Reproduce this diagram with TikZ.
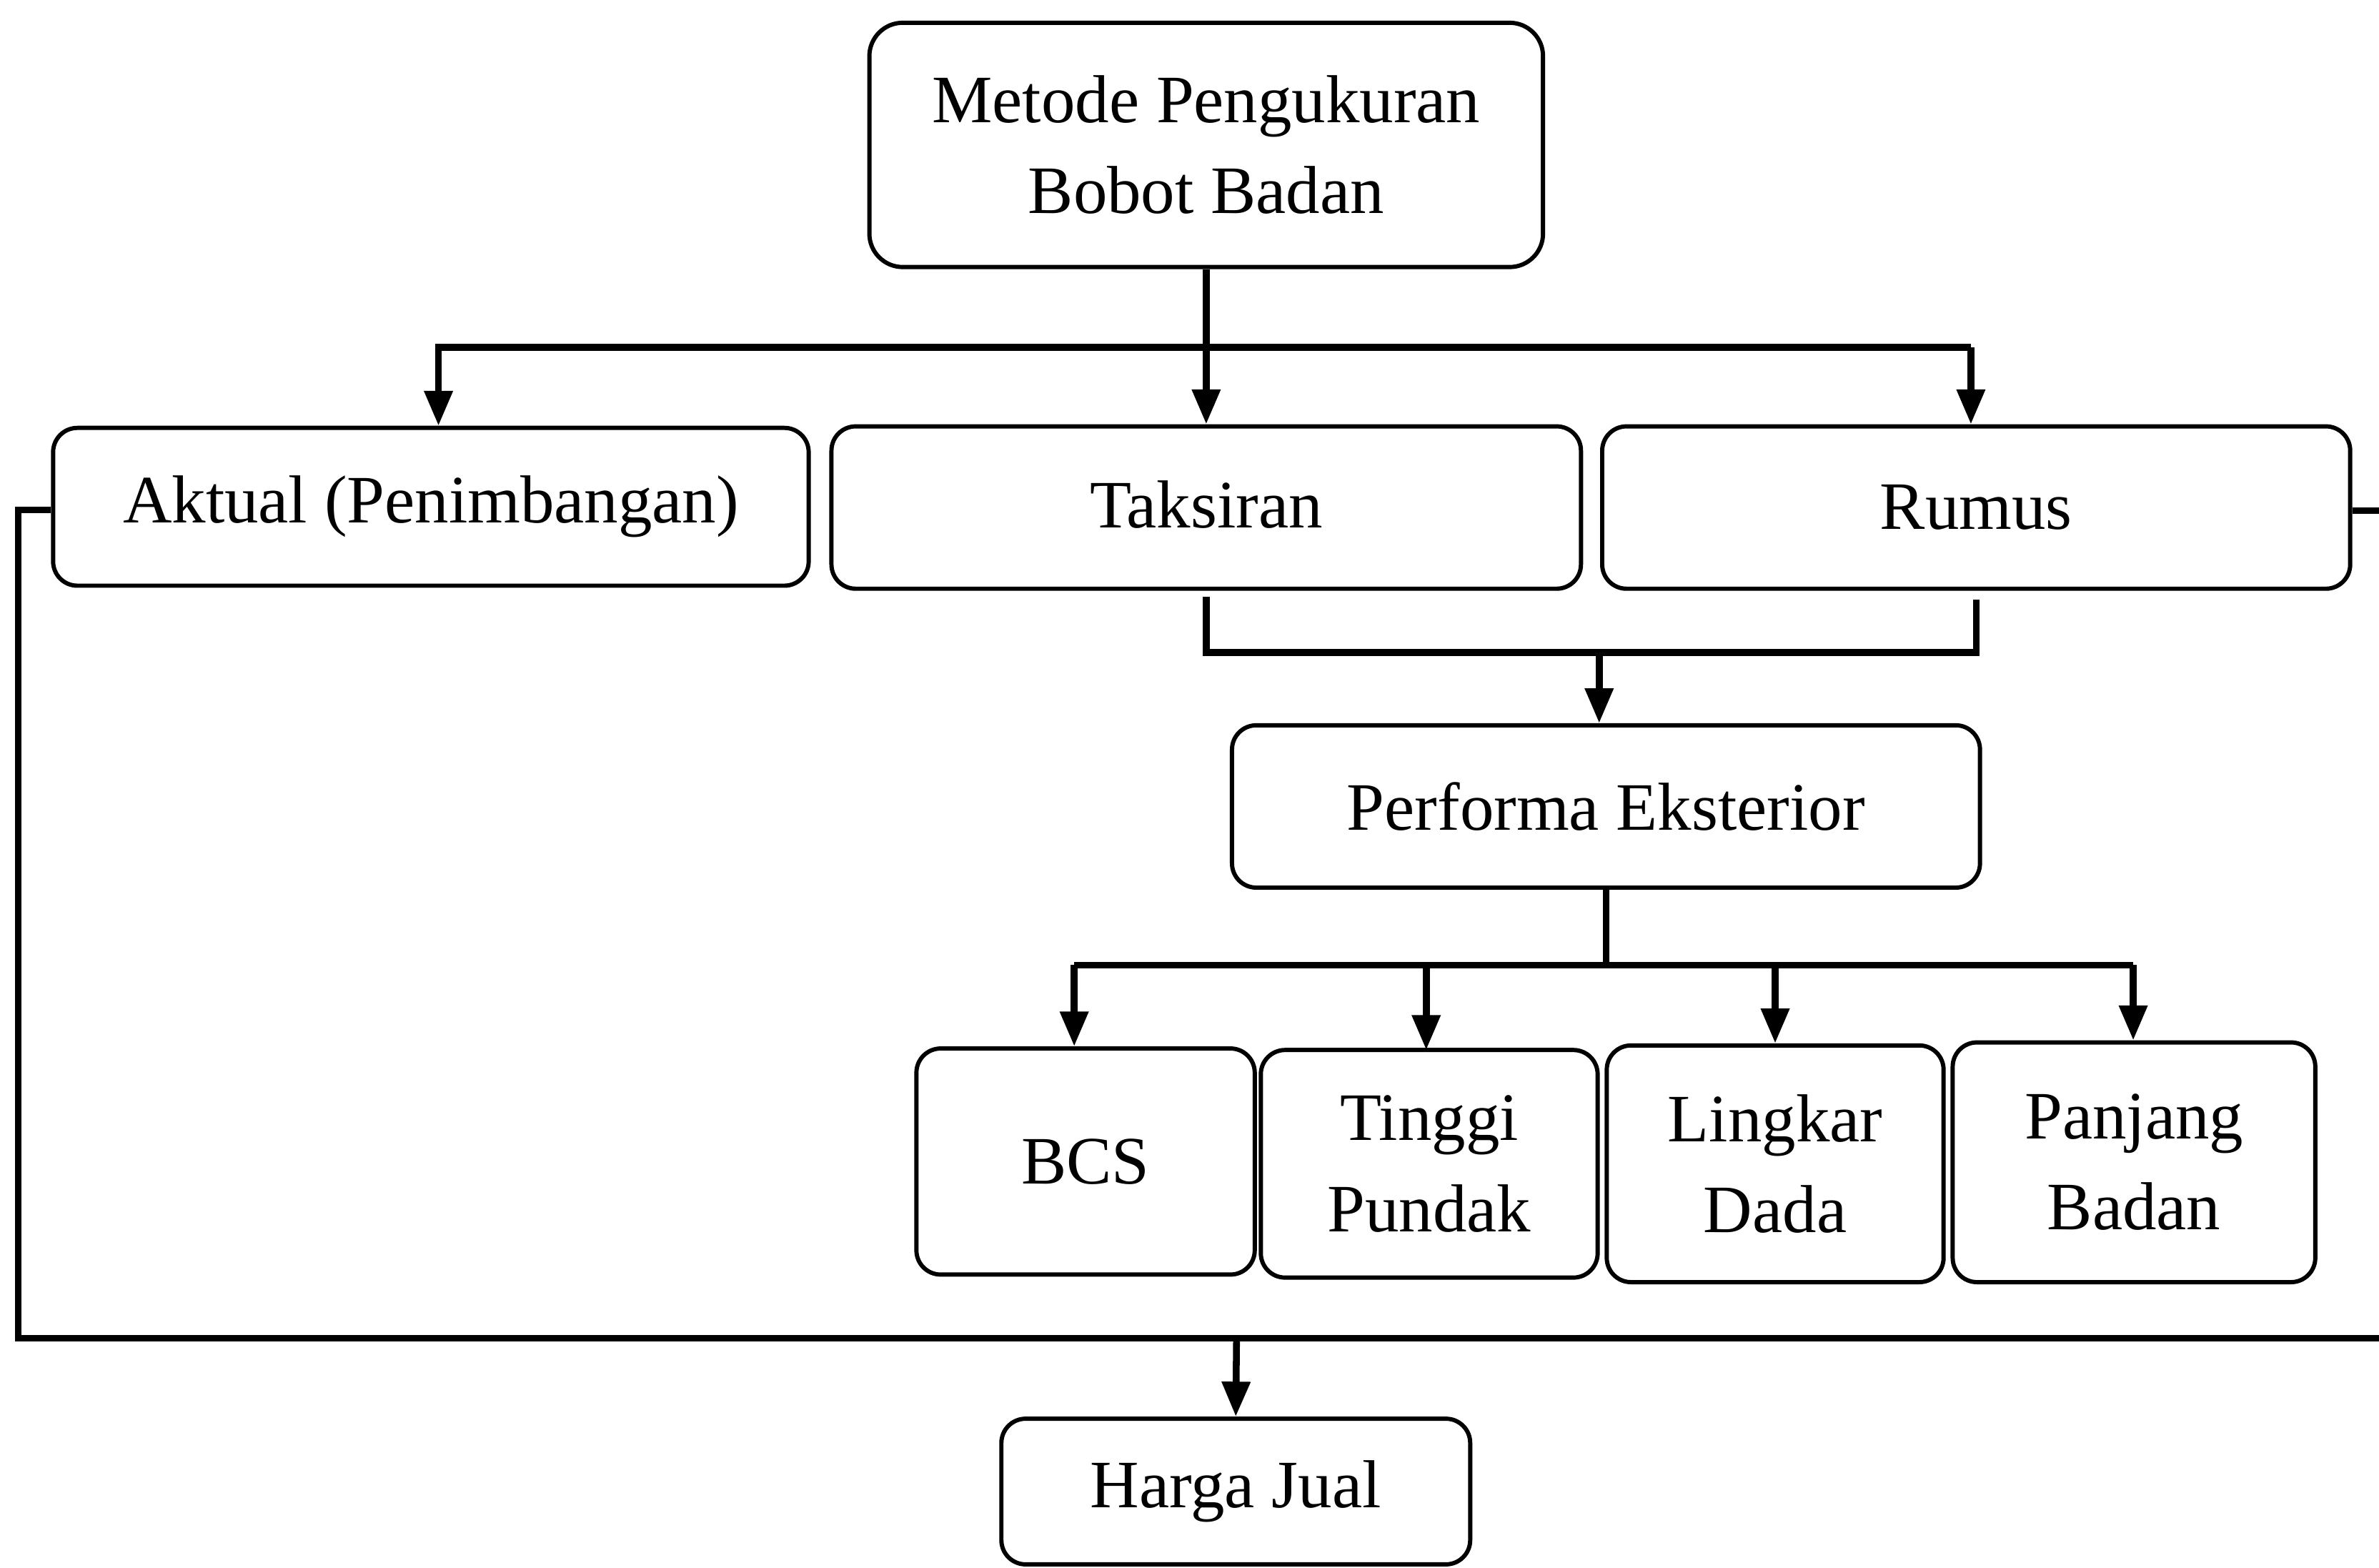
\documentclass[tikz,border=0pt]{standalone}
\usepackage{fontspec}
\setmainfont{Liberation Serif}
\usetikzlibrary{arrows.meta}
\newcommand\diagfont{\fontsize{44.7pt}{60pt}\selectfont}
\tikzset{
  box/.style={draw, line width=2.8pt, rounded corners=16pt, inner sep=0pt, align=center, font=\diagfont},
  conn/.style={line width=4.5pt},
  arr/.style={conn, -{Triangle[length=23pt,width=18pt]}}
}
\begin{document}
\begin{tikzpicture}[x=1pt,y=-1pt]
\useasboundingbox (0,0) rectangle (1568,1033);
\node[box, minimum width=444pt, minimum height=161pt, rounded corners=22pt] (metode) at (795,95.5) {Metode Pengukuran\\Bobot Badan};
\node[box, minimum width=498pt, minimum height=104pt] (aktual) at (284,334) {Aktual (Penimbangan)};
\node[box, minimum width=494pt, minimum height=107pt] (taksiran) at (795,334.5) {\raisebox{4pt}{Taksiran}};
\node[box, minimum width=493pt, minimum height=107pt] (rumus) at (1302.5,334.5) {Rumus};
\node[box, minimum width=493pt, minimum height=107pt] (perf) at (1058.5,531.5) {Performa Eksterior};
\node[box, minimum width=223pt, minimum height=149pt] (bcs) at (715.5,765.5) {BCS};
\node[box, minimum width=222pt, minimum height=150pt] (tinggi) at (942,767) {Tinggi\\Pundak};
\node[box, minimum width=222pt, minimum height=156pt] (lingkar) at (1170,767) {Lingkar\\Dada};
\node[box, minimum width=239pt, minimum height=158pt] (panjang) at (1406.5,766) {Panjang\\Badan};
\node[box, minimum width=309pt, minimum height=96pt] (harga) at (814.5,983) {\raisebox{-4pt}{Harga Jual}};
% top distribution
\coordinate (t1) at (289,229);
\coordinate (t2) at (1299,229);
\draw[arr] (metode.south) -- (taksiran.north);
\draw[arr] (t2) -- (t1) -- (t1 |- aktual.north);
\draw[arr] (t2) -- (t2 |- rumus.north);
% merge to performa
\coordinate (m) at (1054,430);
\draw[conn] ([yshift=-4pt]taksiran.south) |- (m) -| ([yshift=-6pt]rumus.south);
\draw[arr] (m) -- (m |- perf.north);
% performa to measures
\coordinate (p) at (1058.5,636);
\coordinate (b1) at (708,636);
\coordinate (b4) at (1406,636);
\draw[conn] (perf.south) -- (p);
\draw[conn] (b1) -- (b4);
\draw[arr] (b1) -- (b1 |- bcs.north);
\draw[arr] (940,636) -- (940,692);
\draw[arr] (lingkar.north |- p) -- (lingkar.north);
\draw[arr] (b4) -- (b4 |- panjang.north);
% feedback to harga jual
\coordinate (L) at (12,882);
\coordinate (R) at (1576,882);
\coordinate (h) at (815,882);
\draw[conn] ([yshift=-2pt]aktual.west) -| (L) -- (R) |- ([yshift=-2pt]rumus.east);
\draw[arr] (h) -- (harga.north);
\end{tikzpicture}
\end{document}
